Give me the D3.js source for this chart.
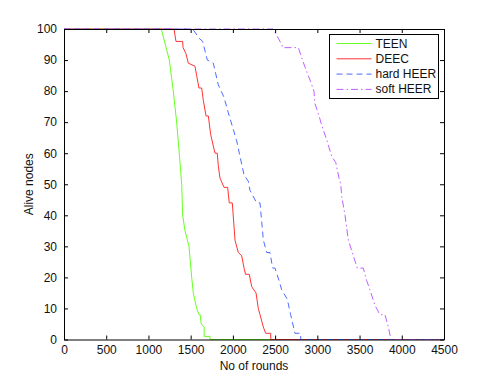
<!DOCTYPE html>
<html>
<head>
<meta charset="utf-8"/>
<script src="https://cdn.jsdelivr.net/npm/d3@7"></script>
<style>
	body { margin: 0; background: #fff; }
	svg { font-family: 'Liberation Sans', Arial, sans-serif; }
	.tick text { font-size: 12px; fill: #111; }
	.domain { stroke: #000; }
</style>
</head>
<body>
<div id="chart"></div>
<script>
// data: [rounds, alive nodes]
var teen = [[0,100],[1152,100],[1200,95],[1247,90],[1294,80],[1334,70],[1365,60],[1394,50],[1405,40],[1433,35],[1480,30],[1512,20],[1531,15],[1571,10],[1599,8],[1612,8],[1625,5],[1660,4],[1660,1],[1730,1],[1730,0],[4500,0]];
var deec = [[0,100],[1303,100],[1326,96],[1405,96],[1410,94],[1445,92],[1472,89],[1551,88],[1571,85],[1598,81],[1630,81],[1650,77],[1682,72],[1709,72],[1737,66],[1788,60],[1815,60],[1827,56],[1847,52],[1895,49],[1938,49],[1957,44],[1993,44],[2025,32],[2064,28],[2104,27],[2132,23],[2150,21],[2194,21],[2223,17],[2274,15],[2301,10],[2321,8],[2361,4],[2388,2],[2448,2],[2448,0],[4500,0]];
var hardHeer = [[0,100],[1524,100],[1600,97],[1642,96],[1697,90],[1768,89],[1827,82],[1895,78],[1946,73],[2045,64],[2076,60],[2132,53],[2182,51],[2203,48],[2282,44],[2321,44],[2361,32],[2401,28],[2439,28],[2471,23],[2499,23],[2546,19],[2578,16],[2644,13],[2684,8],[2735,2],[2803,2],[2803,0],[4500,0]];
var softHeer = [[0,100],[2478,100],[2578,95],[2590,94],[2775,94],[2850,88],[2921,83],[2960,80],[2972,76],[3031,71],[3051,69],[3103,65],[3170,59],[3218,57],[3257,52],[3277,50],[3289,46],[3328,40],[3367,32],[3426,27],[3473,23],[3544,23],[3584,19],[3623,16],[3682,11],[3741,8],[3801,8],[3841,4],[3872,0],[4500,0]];

var names = ['TEEN', 'DEEC', 'hard HEER', 'soft HEER'];
var xTicks = [0,500,1000,1500,2000,2500,3000,3500,4000,4500];
var yTicks = [0,10,20,30,40,50,60,70,80,90,100];

var series = [
	{name: names[0], data: teen, color: '#66ff22', dash: null},
	{name: names[1], data: deec, color: '#ff3333', dash: null},
	{name: names[2], data: hardHeer, color: '#4d6bff', dash: '6,4'},
	{name: names[3], data: softHeer, color: '#c060ff', dash: '7,3,1.5,3'}
];

var W = 491, H = 382;
var m = {top: 29, right: 47, bottom: 42.5, left: 64};
var w = W - m.left - m.right, h = H - m.top - m.bottom;

var svg = d3.select('#chart').append('svg').attr('width', W).attr('height', H);
var g = svg.append('g').attr('transform', `translate(${m.left},${m.top})`);

var x = d3.scaleLinear().domain([0, 4500]).range([0, w]);
var y = d3.scaleLinear().domain([0, 100]).range([h, 0]);

var line = d3.line().x(d => x(d[0])).y(d => y(d[1]));

series.forEach(function(s) {
	g.append('path')
		.attr('d', line(s.data))
		.style('fill', 'none')
		.style('stroke', s.color)
		.style('stroke-width', 1)
		.style('stroke-dasharray', s.dash);
});

// axes, MATLAB style: ticks inward on all four sides
var fmt = d3.format('d');
g.append('g').attr('transform', `translate(0,${h})`)
	.call(d3.axisBottom(x).tickValues(xTicks).tickFormat(fmt).tickSizeInner(-4).tickSizeOuter(0).tickPadding(5.5));
g.append('g')
	.call(d3.axisLeft(y).tickValues(yTicks).tickFormat(fmt).tickSizeInner(-4).tickSizeOuter(0).tickPadding(7));
g.append('g')
	.call(d3.axisTop(x).tickValues(xTicks).tickSizeInner(-4).tickSizeOuter(0).tickFormat(''));
g.append('g').attr('transform', `translate(${w},0)`)
	.call(d3.axisRight(y).tickValues(yTicks).tickSizeInner(-4).tickSizeOuter(0).tickFormat(''));
g.selectAll('.tick line').style('stroke', '#000');

svg.append('text')
	.attr('x', m.left + w/2).attr('y', 369.5)
	.attr('text-anchor', 'middle').style('font-size', '12px').style('fill', '#111')
	.text('No of rounds');
svg.append('text')
	.attr('transform', `translate(33,${m.top + h/2}) rotate(-90)`)
	.attr('text-anchor', 'middle').style('font-size', '12px').style('fill', '#111')
	.text('Alive nodes');

// legend
var lg = svg.append('g').attr('transform', 'translate(329.5,34.5)');
lg.append('rect').attr('width', 109).attr('height', 64)
	.style('fill', '#fff').style('stroke', '#000').style('stroke-width', 1);
series.forEach(function(s, i) {
	var yy = 9 + i*15.3;
	lg.append('line').attr('x1', 7).attr('x2', 42).attr('y1', yy).attr('y2', yy)
		.style('stroke', s.color).style('stroke-width', 1).style('stroke-dasharray', s.dash);
	lg.append('text').attr('x', 46).attr('y', yy + 4)
		.style('font-size', '12px').style('fill', '#111').text(s.name);
});
</script>
</body>
</html>
